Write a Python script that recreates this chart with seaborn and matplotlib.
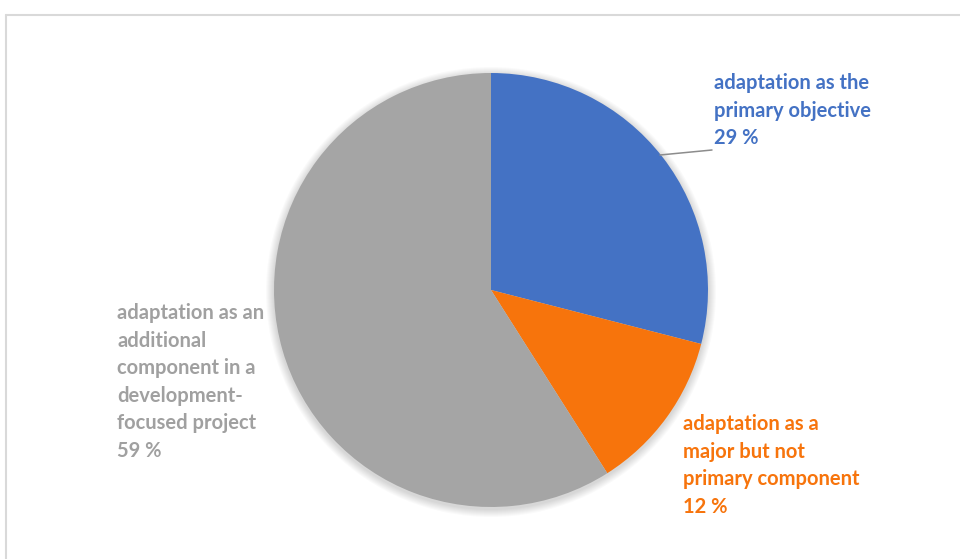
import matplotlib
matplotlib.use("Agg")
import matplotlib.pyplot as plt
from matplotlib.patches import Circle
from matplotlib.lines import Line2D
import seaborn as sns

categories = [
    "adaptation as the\nprimary objective",
    "adaptation as a\nmajor but not\nprimary component",
    "adaptation as an\nadditional\ncomponent in a\ndevelopment-\nfocused project",
]
shares = [29, 12, 59]
colors = ["#4472C4", "#F7740C", "#A5A5A5"]

sns.set_theme(style="white")
plt.rcParams["font.family"] = ["Lato", "DejaVu Sans"]
palette = sns.color_palette(colors)

W, H = 960, 559
fig = plt.figure(figsize=(W / 100, H / 100), dpi=100)
ax = fig.add_axes([0, 0, 1, 1])

cx, cy, r = 491, H - 290, 217

# soft shadow around the pie
for i in range(8):
    ax.add_patch(Circle((cx, cy - 2), r + 1 + i * 1.0, color="black",
                        alpha=0.018, lw=0, zorder=0))

wedges, _ = ax.pie(shares, colors=palette, startangle=90, counterclock=False,
                   center=(cx, cy), radius=r, frame=True,
                   wedgeprops=dict(linewidth=0))
ax.set_xlim(0, W)
ax.set_ylim(0, H)
ax.set_aspect("equal")
ax.axis("off")

labels = [f"{c}\n{v} %" for c, v in zip(categories, shares)]
fs = 14.5
ls = 1.47
ax.text(714, H - 73, labels[0], color=colors[0], fontsize=fs, fontweight="bold",
        ha="left", va="top", linespacing=ls)
ax.text(683, H - 414, labels[1], color=colors[1], fontsize=fs, fontweight="bold",
        ha="left", va="top", linespacing=ls)
ax.text(117, H - 303, labels[2], color="#A0A0A0", fontsize=fs, fontweight="bold",
        ha="left", va="top", linespacing=ls)

# leader line for the blue slice
ax.plot([660, 712], [H - 155, H - 150], color="#8C8C8C", lw=1.1, zorder=5)

# chart area border (top and left edges)
fig.add_artist(Line2D([5.5 / W, 1.0], [1 - 14.5 / H, 1 - 14.5 / H],
                      transform=fig.transFigure, color="#D9D9D9", lw=1.5))
fig.add_artist(Line2D([5.5 / W, 5.5 / W], [0.0, 1 - 14.5 / H],
                      transform=fig.transFigure, color="#D9D9D9", lw=1.5))

fig.savefig("out.png", dpi=100, facecolor="white")
